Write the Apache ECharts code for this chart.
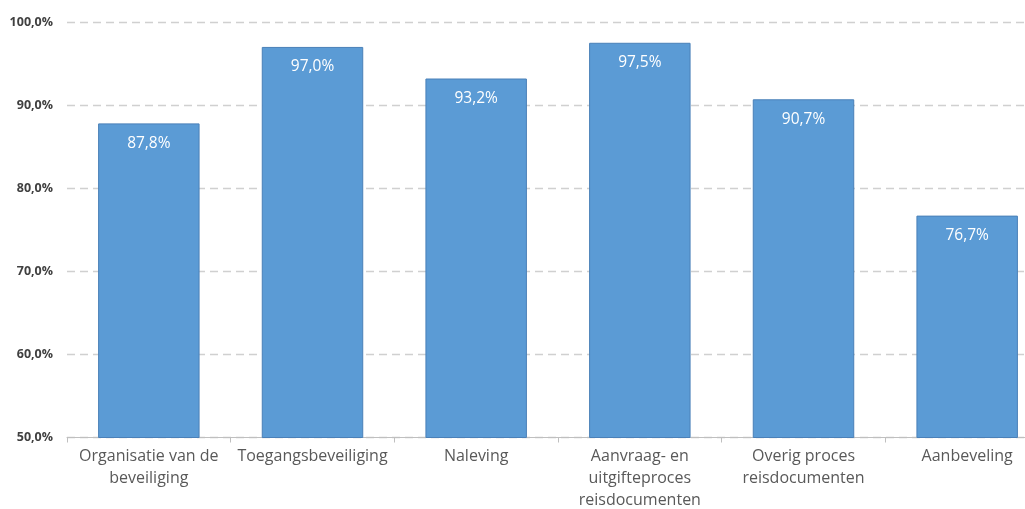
<!DOCTYPE html>
<html>
<head>
<meta charset="utf-8">
<script src="https://cdn.jsdelivr.net/npm/echarts@6/dist/echarts.min.js"></script>
<style>
  html, body { margin: 0; padding: 0; background: #fff; overflow: hidden; }
  #chart { width: 1060px; height: 509px; }
</style>
</head>
<body>
<div id="chart"></div>
<script>
  var categories = [
    'Organisatie van de\nbeveiliging',
    'Toegangsbeveiliging',
    'Naleving',
    'Aanvraag- en\nuitgifteproces\nreisdocumenten',
    'Overig proces\nreisdocumenten',
    'Aanbeveling'
  ];
  var scores = [87.8, 97.0, 93.2, 97.5, 90.7, 76.7];

  function pct (v) {
    return v.toFixed(1).replace('.', ',') + '%';
  }

  var myChart = echarts.init(document.getElementById('chart'));
  myChart.setOption({
    animation: false,
    grid: {
      left: 67,
      top: 22,
      right: 11,
      bottom: 71.5,
      containLabel: false,
      outerBoundsMode: 'none'
    },
    xAxis: {
      type: 'category',
      data: categories,
      axisLine: { lineStyle: { color: '#bfbfbf', width: 1 } },
      axisTick: { show: true, length: 5, lineStyle: { color: '#bfbfbf' } },
      axisLabel: {
        interval: 0,
        margin: 8,
        color: '#595959',
        fontFamily: 'Open Sans',
        fontSize: 16,
        lineHeight: 22
      }
    },
    yAxis: {
      type: 'value',
      min: 50,
      max: 100,
      interval: 10,
      axisLine: { show: false },
      axisTick: { show: false },
      axisLabel: {
        margin: 14,
        color: '#404040',
        fontFamily: 'Open Sans',
        fontWeight: 'bold',
        fontSize: 12.5,
        formatter: pct
      },
      splitLine: {
        lineStyle: { color: '#d0d0d0', type: [8, 5], width: 1.3 }
      }
    },
    series: [
      {
        type: 'bar',
        data: scores,
        barCategoryGap: '38%',
        itemStyle: {
          color: '#5B9BD5',
          borderColor: '#4a80b8',
          borderWidth: 1
        },
        label: {
          show: true,
          position: 'insideTop',
          distance: 12,
          color: '#ffffff',
          fontFamily: 'Open Sans',
          fontSize: 15.5,
          formatter: function (p) { return pct(p.value); }
        }
      }
    ]
  });
</script>
</body>
</html>
